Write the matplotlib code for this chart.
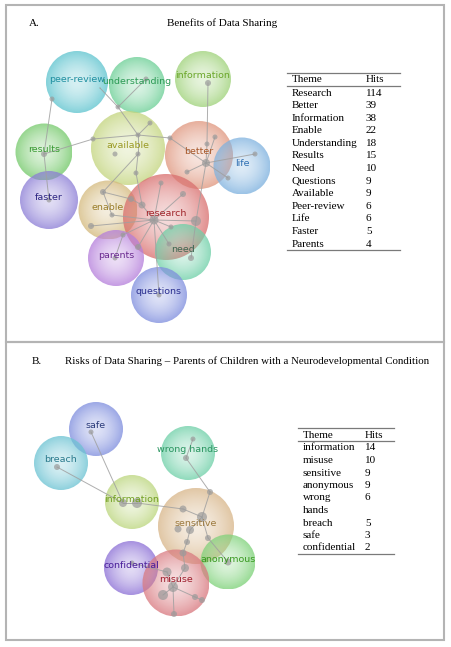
import numpy as np
import matplotlib.pyplot as plt
from matplotlib.patches import Circle, Rectangle
from matplotlib.colors import to_rgb

W, H = 452, 647

# ---- Panel A: benefits of data sharing (bubble map, pixel coords) ----
a_words = ["peer-review", "understanding", "information", "results", "available",
           "better", "life", "faster", "enable", "research", "need", "parents", "questions"]
a_x = [77, 137, 203, 44, 128, 199, 242, 49, 108, 166, 183, 116, 159]
a_y = [82, 85, 79, 152, 148, 155, 166, 200, 210, 217, 252, 258, 295]
a_r = [31, 28, 28, 28.5, 37, 34, 28.5, 29, 29.5, 43, 28, 28, 28]
a_fill = ["#5fc4cf", "#6ccf96", "#9fd27a", "#74c96a", "#c4d57f", "#e0977f", "#7fb2df",
          "#8c7ed6", "#d4b97c", "#d9706f", "#6fd0a8", "#b57fdb", "#7f8ede"]
a_ink = ["#1f8fa0", "#2c9a55", "#6aa629", "#3a9a34", "#9a9a24", "#a8582a", "#2f6fb2",
         "#2b2380", "#9a7e2a", "#a0242a", "#3f6650", "#6a2a90", "#2a2f8f"]

a_nodes = [(52, 99, 2.5), (146, 79, 2.5), (118, 107, 2.5), (208, 83, 3), (150, 123, 2.5),
           (138, 135, 2.5), (93, 139, 2.5), (115, 154, 2.5), (138, 154, 2.5), (136, 173, 2.5),
           (170, 138, 2.5), (215, 137, 2.5), (207, 144, 2.5), (206, 163, 4), (187, 172, 2.5),
           (228, 178, 2.5), (255, 154, 2.5), (44, 154, 3), (49, 200, 2.5), (103, 192, 3),
           (131, 199, 3), (142, 205, 3.5), (161, 183, 2.5), (183, 194, 3), (154, 220, 4.5),
           (196, 221, 5), (171, 227, 2.5), (112, 215, 2.5), (91, 226, 3), (169, 244, 2.5),
           (191, 258, 3), (138, 247, 3), (123, 235, 2.5), (115, 258, 2.5), (159, 295, 2.5),
           (100, 88, 0.5)]
a_edges = [(0, 17), (17, 18), (17, 6), (6, 5), (5, 10), (5, 4), (35, 2), (1, 2), (2, 5),
           (5, 8), (8, 9), (8, 19), (3, 12), (12, 13), (13, 11), (13, 14), (13, 15), (13, 16),
           (10, 13), (13, 25), (25, 30), (24, 22), (24, 23), (24, 25), (24, 26), (24, 21),
           (24, 27), (24, 28), (24, 29), (24, 31), (24, 32), (24, 34), (21, 9), (19, 20),
           (20, 21), (19, 27), (32, 33)]

a_themes = ["Research", "Better", "Information", "Enable", "Understanding", "Results",
            "Need", "Questions", "Available", "Peer-review", "Life", "Faster", "Parents"]
a_hits = [114, 39, 38, 22, 18, 15, 10, 9, 9, 6, 6, 5, 4]

# ---- Panel B: risks of data sharing ----
b_words = ["safe", "breach", "wrong hands", "information", "sensitive", "anonymous",
           "confidential", "misuse"]
b_x = [96, 61, 188, 132, 196, 228, 131, 176]
b_y = [429, 463, 453, 502, 526, 562, 568, 583]
b_r = [27, 27, 27, 27, 38, 27.5, 27, 33.5]
b_fill = ["#7f8ede", "#6cc3d3", "#6fd0a8", "#bcd67e", "#d8b68a", "#7fd27a", "#8c70d6", "#d97a80"]
b_ink = ["#2a3a7a", "#2a7a8c", "#2a9560", "#72a022", "#9c7a3e", "#3a9a22", "#4a1f9a", "#9e1f2e"]

b_nodes = [(91, 432, 2.5), (57, 467, 3), (193, 439, 2.5), (186, 458, 3), (210, 492, 3),
           (123, 503, 4), (137, 503, 5), (183, 509, 3.5), (202, 517, 5), (178, 529, 3.5),
           (190, 530, 4), (187, 542, 3), (208, 538, 3), (183, 553, 3.5), (185, 568, 4),
           (167, 572, 4.5), (173, 587, 5), (163, 595, 5), (195, 597, 3), (202, 600, 3),
           (174, 614, 3), (132, 563, 2.5), (228, 562, 3.5)]
b_edges = [(0, 5), (1, 5), (5, 6), (6, 7), (7, 8), (2, 3), (3, 4), (4, 8), (8, 10), (10, 11),
           (11, 13), (13, 14), (8, 12), (12, 22), (14, 16), (16, 17), (16, 18), (18, 19),
           (16, 20), (21, 15), (15, 16)]

b_themes = ["information", "misuse", "sensitive", "anonymous", "wrong\nhands", "breach",
            "safe", "confidential"]
b_hits = [14, 10, 9, 9, 6, 5, 3, 2]

SERIF = "Liberation Serif"
FS = 8


def bubble(ax, x, y, r, color):
    n = 80
    g = np.linspace(-1, 1, n)
    gx, gy = np.meshgrid(g, g)
    d = np.clip(np.sqrt(gx ** 2 + gy ** 2), 0, 1)
    img = np.zeros((n, n, 4))
    img[..., :3] = to_rgb(color)
    img[..., 3] = 0.25 + 0.52 * d ** 1.6
    im = ax.imshow(img, extent=(x - r, x + r, y + r, y - r), interpolation="bilinear", zorder=1)
    im.set_clip_path(Circle((x, y), r, transform=ax.transData))


def bubble_map(ax, words, xs, ys, rs, fills, inks, nodes, edges):
    for x, y, r, c in zip(xs, ys, rs, fills):
        bubble(ax, x, y, r, c)
    for i, j in edges:
        ax.plot([nodes[i][0], nodes[j][0]], [nodes[i][1], nodes[j][1]],
                color="#a0a0a0", lw=0.7, alpha=0.85, zorder=2)
    for nx, ny, ns in nodes:
        ax.add_patch(Circle((nx, ny), ns, color="#9a9a9a", alpha=0.7, lw=0, zorder=3))
    for w, x, y, c in zip(words, xs, ys, inks):
        ax.text(x, y - 3, w, color=c, fontsize=6.8, family="DejaVu Sans",
                ha="center", va="center", zorder=4)


def table(ax, x0, x1, xh, top, step, themes, hits):
    ax.plot([x0, x1], [top, top], color="#7a7a7a", lw=0.9)
    ax.text(x0 + 5, top + 7, "Theme", family=SERIF, fontsize=FS, va="center")
    ax.text(xh, top + 7, "Hits", family=SERIF, fontsize=FS, va="center")
    ax.plot([x0, x1], [top + 13, top + 13], color="#7a7a7a", lw=0.9)
    y = top + 20
    for t, h in zip(themes, hits):
        ax.text(xh, y, str(h), family=SERIF, fontsize=FS, va="center")
        for line in t.split("\n"):
            ax.text(x0 + 5, y, line, family=SERIF, fontsize=FS, va="center")
            y += step
    ax.plot([x0, x1], [y - step + 6, y - step + 6], color="#7a7a7a", lw=0.9)


fig = plt.figure(figsize=(W / 100, H / 100), dpi=100)
ax = fig.add_axes([0, 0, 1, 1])

ax.add_patch(Rectangle((6, 5), 438, 337, fill=False, ec="#b4b4b4", lw=1.5))
ax.add_patch(Rectangle((6, 342), 438, 298, fill=False, ec="#b4b4b4", lw=1.5))

ax.text(29, 23, "A.", family=SERIF, fontsize=FS, va="center")
ax.text(222, 23, "Benefits of Data Sharing", family=SERIF, fontsize=FS,
        ha="center", va="center")
ax.text(32, 361, "B.", family=SERIF, fontsize=FS, va="center")
ax.text(65, 361, "Risks of Data Sharing \u2013 Parents of Children with a Neurodevelopmental Condition",
        family=SERIF, fontsize=7.85, va="center")

bubble_map(ax, a_words, a_x, a_y, a_r, a_fill, a_ink, a_nodes, a_edges)
bubble_map(ax, b_words, b_x, b_y, b_r, b_fill, b_ink, b_nodes, b_edges)

table(ax, 287, 400, 366, 73, 12.6, a_themes, a_hits)
table(ax, 298, 394, 365, 428, 12.5, b_themes, b_hits)

ax.set_xlim(0, W)
ax.set_ylim(H, 0)
ax.set_aspect("auto")
ax.axis("off")

fig.savefig("out.png", dpi=100)
